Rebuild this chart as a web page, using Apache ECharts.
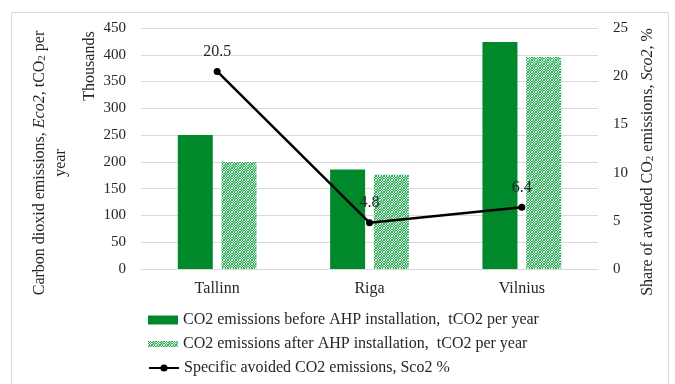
<!DOCTYPE html>
<html>
<head>
<meta charset="utf-8">
<script src="https://cdn.jsdelivr.net/npm/echarts@6/dist/echarts.min.js"></script>
<style>
  html, body { margin: 0; padding: 0; background: #fff; }
  #chart { width: 675px; height: 384px; }
</style>
</head>
<body>
<div id="chart"></div>
<script>
// City categories and series values (emissions in thousands of tCO2 per year, share in %)
const cities = ['Tallinn', 'Riga', 'Vilnius'];
const emissionsBefore = [250, 186, 424];
const emissionsAfter = [200, 176, 396];
const avoidedShare = [20.5, 4.8, 6.4];
const leftTicks = { min: 0, max: 450, interval: 50 };
const rightTicks = { min: 0, max: 25, interval: 5 };

const seriesNames = [
  'CO2 emissions before AHP installation,  tCO2 per year',
  'CO2 emissions after AHP installation,  tCO2 per year',
  'Specific avoided CO2 emissions, Sco2 %'
];

const FONT = '"Liberation Serif", "Times New Roman", serif';
const TEXT = '#262626';
const GRID = '#d9d9d9';
const GREEN = '#00892b';

// Checkered tile used to fill the "after" bars
function makeChecker() {
  const c = document.createElement('canvas');
  c.width = 8; c.height = 8;
  const g = c.getContext('2d');
  g.fillStyle = '#ffffff';
  g.fillRect(0, 0, 8, 8);
  for (let y = 0; y < 8; y++) {
    for (let x = 0; x < 8; x++) {
      const block = ((x >> 2) + (y >> 2)) % 2 === 0;
      const dot = (x + y) % 2 === 0;
      if (block) {
        if (dot) { g.fillStyle = '#1fa64a'; g.fillRect(x, y, 1, 1); }
      } else {
        g.fillStyle = dot ? '#9ad9ac' : '#3cb465';
        g.fillRect(x, y, 1, 1);
      }
    }
  }
  return c;
}
const checker = { image: makeChecker(), repeat: 'repeat' };

const chart = echarts.init(document.getElementById('chart'), null, { renderer: 'canvas' });

const legendBase = {
  orient: 'vertical',
  left: 148,
  padding: 0,
  itemWidth: 30,
  itemHeight: 9,
  selectedMode: false,
  textStyle: { fontFamily: FONT, fontSize: 16, color: TEXT }
};

chart.setOption({
  backgroundColor: '#fff',
  animation: false,
  textStyle: { fontFamily: FONT },
  grid: { left: 141, right: 77, top: 28, bottom: 115, containLabel: false },
  legend: [
    Object.assign({}, legendBase, { top: 312, data: [{ name: seriesNames[0], icon: 'rect' }] }),
    Object.assign({}, legendBase, { top: 336, itemHeight: 6, data: [{ name: seriesNames[1], icon: 'rect' }] }),
    Object.assign({}, legendBase, { top: 360, data: [{ name: seriesNames[2] }] })
  ],
  xAxis: {
    type: 'category',
    data: cities,
    axisLine: { lineStyle: { color: GRID, width: 1 } },
    axisTick: { show: false },
    axisLabel: { fontFamily: FONT, fontSize: 16, color: TEXT, margin: 12 }
  },
  yAxis: [
    {
      type: 'value',
      min: leftTicks.min, max: leftTicks.max, interval: leftTicks.interval,
      axisLine: { show: false },
      axisTick: { show: false },
      splitLine: { lineStyle: { color: GRID, width: 1 } },
      axisLabel: { fontFamily: FONT, fontSize: 15, color: TEXT, margin: 15 }
    },
    {
      type: 'value',
      min: rightTicks.min, max: rightTicks.max, interval: rightTicks.interval,
      axisLine: { show: false },
      axisTick: { show: false },
      splitLine: { show: false },
      axisLabel: { fontFamily: FONT, fontSize: 15, color: TEXT, margin: 15 }
    }
  ],
  series: [
    {
      name: seriesNames[0],
      type: 'bar',
      yAxisIndex: 0,
      data: emissionsBefore,
      barWidth: 35,
      barGap: '25%',
      itemStyle: { color: GREEN }
    },
    {
      name: seriesNames[1],
      type: 'bar',
      yAxisIndex: 0,
      data: emissionsAfter,
      barWidth: 35,
      barGap: '25%',
      itemStyle: { color: checker }
    },
    {
      name: seriesNames[2],
      type: 'line',
      yAxisIndex: 1,
      data: avoidedShare,
      symbol: 'circle',
      symbolSize: 7,
      lineStyle: { color: '#000', width: 2.5 },
      itemStyle: { color: '#000' },
      label: {
        show: true,
        position: 'top',
        distance: 8,
        fontFamily: FONT,
        fontSize: 16,
        color: TEXT
      },
      z: 5
    }
  ],
  graphic: [
    {
      type: 'rect',
      silent: true,
      shape: { x: 11.5, y: 12.5, width: 657, height: 400 },
      style: { fill: 'none', stroke: GRID, lineWidth: 1 }
    },
    {
      type: 'text',
      x: 50, y: 163,
      rotation: Math.PI / 2,
      style: {
        text: 'Carbon dioxid emissions, {i|Eco2}, tCO{s|2} per\nyear',
        font: '16px ' + FONT,
        fill: TEXT,
        align: 'center',
        verticalAlign: 'middle',
        lineHeight: 21,
        rich: {
          i: { fontStyle: 'italic', fontFamily: FONT, fontSize: 16, fill: TEXT },
          s: { fontFamily: FONT, fontSize: 11, fill: TEXT, padding: [5, 0, 0, 0] }
        }
      }
    },
    {
      type: 'text',
      x: 90, y: 66,
      rotation: Math.PI / 2,
      style: {
        text: 'Thousands',
        font: '16px ' + FONT,
        fill: TEXT,
        align: 'center',
        verticalAlign: 'middle'
      }
    },
    {
      type: 'text',
      x: 648, y: 162,
      rotation: Math.PI / 2,
      style: {
        text: 'Share of avoided CO{s|2} emissions, {i|Sco2}, %',
        font: '16px ' + FONT,
        fill: TEXT,
        align: 'center',
        verticalAlign: 'middle',
        rich: {
          i: { fontStyle: 'italic', fontFamily: FONT, fontSize: 16, fill: TEXT },
          s: { fontFamily: FONT, fontSize: 11, fill: TEXT, padding: [5, 0, 0, 0] }
        }
      }
    }
  ]
});
</script>
</body>
</html>
